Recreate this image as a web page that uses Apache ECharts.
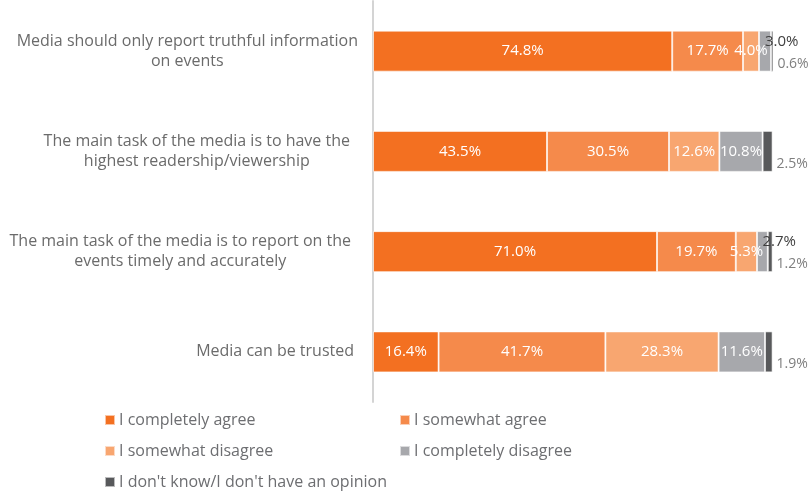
<!DOCTYPE html>
<html>
<head>
<meta charset="utf-8">
<script src="https://cdn.jsdelivr.net/npm/echarts@6/dist/echarts.min.js"></script>
<style>html,body{margin:0;padding:0;background:#fff}#c{width:808px;height:492px}</style>
</head>
<body>
<div id="c"></div>
<script>
var categories = [
  "Media should only report truthful information\non events",
  "The main task of the media is to have the\nhighest readership/viewership",
  "The main task of the media is to report on the\nevents timely and accurately",
  "Media can be trusted"
];
var seriesNames = ["I completely agree", "I somewhat agree", "I somewhat disagree", "I completely disagree", "I don't know/I don't have an opinion"];
var completelyAgree = [74.8, 43.5, 71.0, 16.4];
var somewhatAgree = [17.7, 30.5, 19.7, 41.7];
var somewhatDisagree = [4.0, 12.6, 5.3, 28.3];
var completelyDisagree = [3.0, 10.8, 2.7, 11.6];
var dontKnow = [0.6, 2.5, 1.2, 1.9];

var colors = ["#F37021", "#F58A4B", "#F8A670", "#A7A8AC", "#58595B"];
var FONT = "Open Sans";
var labelRightPad = [0, 8, 7, 4];
function fmt(p){ return p.value.toFixed(1) + "%"; }

var insideLabel = {show: true, position: "inside", color: "#fff", fontFamily: FONT, fontSize: 15, formatter: fmt};

function mkSeries(idx, values, labelFn) {
  return {
    name: seriesNames[idx], type: "bar", stack: "total", barWidth: 41,
    itemStyle: {color: colors[idx], borderColor: "rgba(255,255,255,0.6)", borderWidth: 1},
    label: insideLabel,
    data: values.map(function(v){ var d = {value: v}; if (labelFn) { var l = labelFn(v); if (l) d.label = l; } return d; })
  };
}

var series = [
  mkSeries(0, completelyAgree),
  mkSeries(1, somewhatAgree),
  mkSeries(2, somewhatDisagree),
  mkSeries(3, completelyDisagree, function(v){
    if (v < 5) return {show: true, position: ["50%", 11], align: "left", verticalAlign: "middle", color: "#404040", fontFamily: FONT, fontSize: 15, formatter: fmt};
    return null;
  }),
  mkSeries(4, dontKnow, function(v){
    return {show: true, position: ["100%", 33], offset: [4, 0], align: "left", verticalAlign: "middle", color: "#7f7f7f", fontFamily: FONT, fontSize: 14, formatter: fmt};
  })
];

var yData = categories.map(function(c, i){
  return {value: c, textStyle: {padding: [0, labelRightPad[i], 0, 0]}};
});

var chart = echarts.init(document.getElementById("c"), null, {renderer: "canvas"});
chart.setOption({
  animation: false,
  color: colors,
  grid: {left: 373, top: 1, height: 401, width: 404},
  xAxis: {type: "value", min: 0, max: 101, show: false},
  yAxis: {
    type: "category", data: yData, inverse: true,
    axisLine: {show: true, lineStyle: {color: "#d4d4d4", width: 2}},
    axisTick: {show: false},
    axisLabel: {
      margin: 15, color: "#6b6b6b", fontFamily: FONT, fontSize: 16, lineHeight: 20, align: "right",
      formatter: function(v){ return v.split("\n").map(function(l){ return "{c|" + l + "}"; }).join("\n"); },
      rich: {c: {align: "center", color: "#6b6b6b", fontFamily: FONT, fontSize: 16, lineHeight: 20}}
    }
  },
  legend: [
    {data: [seriesNames[0], seriesNames[2], seriesNames[4]], orient: "vertical", left: 104, top: 410, padding: 0,
     icon: "rect", itemWidth: 10, itemHeight: 10, itemGap: 11,
     textStyle: {color: "#6d6e71", fontFamily: FONT, fontSize: 16, lineHeight: 20, padding: [0,0,0,-1]}},
    {data: [seriesNames[1], seriesNames[3]], orient: "vertical", left: 399, top: 410, padding: 0,
     icon: "rect", itemWidth: 10, itemHeight: 10, itemGap: 11,
     textStyle: {color: "#6d6e71", fontFamily: FONT, fontSize: 16, lineHeight: 20, padding: [0,0,0,-1]}}
  ],
  series: series
});
</script>
</body>
</html>
